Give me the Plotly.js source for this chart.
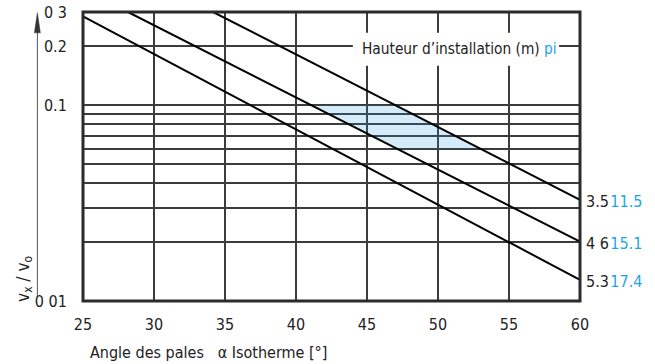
<!DOCTYPE html>
<html>
<head>
<meta charset="utf-8">
<script src="https://cdn.plot.ly/plotly-3.0.1.min.js"></script>
<style>
  html, body { margin: 0; padding: 0; background: #fff; }
  #chart { width: 655px; height: 364px; }
</style>
</head>
<body>
<div id="chart"></div>
<script>
// Blade angle (degrees) at the two ends of each throw line
var lineAngles = [[34.16, 60], [28.17, 60], [25, 60]];
// Velocity ratio vx/vo at those ends
var lineRatios = [[0.3, 0.0329], [0.3, 0.0201], [0.2846, 0.01282]];
// Installation height (m) and pi labels for each line
var heights = ['3.5', '4 6', '5.3'];
var piValues = ['11.5', '15.1', '17.4'];

// Shaded working band: ratio limits, between the 4.6 m and 3.5 m lines
var bandRatios = [0.1, 0.06];

var xTicks = [25, 30, 35, 40, 45, 50, 55, 60];
var yTickVals = [0.01, 0.02, 0.03, 0.04, 0.05, 0.06, 0.07, 0.08, 0.09, 0.1, 0.2, 0.3];
var yTickText = ['0 01', '', '', '', '', '', '', '', '', '0.1', '0.2', '0 3'];

var FONT = 'Liberation Sans Narrow, DejaVu Sans Condensed, Roboto, sans-serif';
var BLUE = '#1fa5e6';
var INK = '#222';
var GRID = '#3c3c3c';

// angle at which a log-linear line reaches a given ratio
function angleAt(i, r) {
  var a = lineAngles[i], v = lineRatios[i];
  var t = (Math.log10(r) - Math.log10(v[0])) / (Math.log10(v[1]) - Math.log10(v[0]));
  return a[0] + t * (a[1] - a[0]);
}

var traces = [];

// band polygon
traces.push({
  x: [angleAt(1, bandRatios[0]), angleAt(0, bandRatios[0]), angleAt(0, bandRatios[1]), angleAt(1, bandRatios[1])],
  y: [bandRatios[0], bandRatios[0], bandRatios[1], bandRatios[1]],
  mode: 'lines', fill: 'toself', fillcolor: 'rgba(30,150,225,0.19)',
  line: { width: 0 }, hoverinfo: 'skip', showlegend: false
});

for (var i = 0; i < lineAngles.length; i++) {
  traces.push({
    x: lineAngles[i], y: lineRatios[i], mode: 'lines',
    line: { color: '#000', width: 2 }, hoverinfo: 'skip', showlegend: false
  });
}

var annotations = [];
for (var j = 0; j < heights.length; j++) {
  annotations.push({
    xref: 'paper', yref: 'y', x: 1, y: Math.log10(lineRatios[j][1]),
    xanchor: 'left', yanchor: 'middle', xshift: 4, yshift: -2, showarrow: false,
    text: heights[j] + '<span style="font-size:5px"> </span><span style="color:' + BLUE + '">' + piValues[j] + '</span>',
    font: { family: FONT, size: 16, color: INK }
  });
}
annotations.push({
  xref: 'paper', yref: 'paper', x: 0.958, y: 0.873, xanchor: 'right', yanchor: 'middle',
  showarrow: false,
  text: 'Hauteur d\u2019installation (m) <span style="color:' + BLUE + '">pi</span>',
  font: { family: FONT, size: 15.3, color: INK }
});
annotations.push({
  xref: 'paper', yref: 'paper', x: 0.0095, y: -0.177, xanchor: 'left', yanchor: 'middle',
  showarrow: false, text: 'Angle des pales&nbsp;&nbsp; \u03b1 Isotherme [\u00b0]',
  font: { family: FONT, size: 16, color: INK }
});
annotations.push({
  xref: 'paper', yref: 'paper', x: -0.119, y: 0.076, xanchor: 'center', yanchor: 'middle',
  showarrow: false, textangle: -90, text: 'v<sub>x</sub> / v<sub>o</sub>',
  font: { family: FONT, size: 17, color: INK }
});

var layout = {
  width: 655, height: 364,
  margin: { l: 83, r: 75, t: 12, b: 63 },
  paper_bgcolor: '#fff', plot_bgcolor: '#fff',
  showlegend: false,
  xaxis: {
    range: [25, 60], tickvals: xTicks, ticktext: xTicks.map(String),
    showgrid: true, gridcolor: GRID, gridwidth: 2,
    ticks: 'outside', ticklen: 9, tickcolor: 'rgba(0,0,0,0)',
    tickfont: { family: FONT, size: 16, color: INK }, zeroline: false, showline: false
  },
  yaxis: {
    type: 'log', range: [Math.log10(0.01), Math.log10(0.3)],
    tickvals: yTickVals, ticktext: yTickText,
    showgrid: true, gridcolor: GRID, gridwidth: 2,
    ticks: 'outside', ticklen: 12, tickcolor: 'rgba(0,0,0,0)',
    tickfont: { family: FONT, size: 16, color: INK }, zeroline: false, showline: false
  },
  shapes: [
    // white panel behind the legend caption
    { type: 'rect', xref: 'paper', yref: 'paper', x0: 0.543, x1: 0.958, y0: 0.814, y1: 0.928,
      fillcolor: '#fff', line: { width: 0 }, layer: 'above' },
    // frame
    { type: 'rect', xref: 'paper', yref: 'paper', x0: 0, x1: 1, y0: 0, y1: 1,
      line: { color: '#2b2b2b', width: 3 }, layer: 'above' },
    // vertical axis arrow
    { type: 'line', xref: 'paper', yref: 'paper', x0: -0.0918, x1: -0.0918, y0: 0.0173, y1: 0.93,
      line: { color: '#555', width: 1 } },
    { type: 'path', xref: 'paper', yref: 'paper',
      path: 'M -0.0978 0.928 L -0.0918 0.9976 L -0.0858 0.928 Z',
      fillcolor: '#333', line: { color: '#333', width: 0.5 } }
  ],
  annotations: annotations
};

Plotly.newPlot('chart', traces, layout, { displayModeBar: false, staticPlot: true });
</script>
</body>
</html>
